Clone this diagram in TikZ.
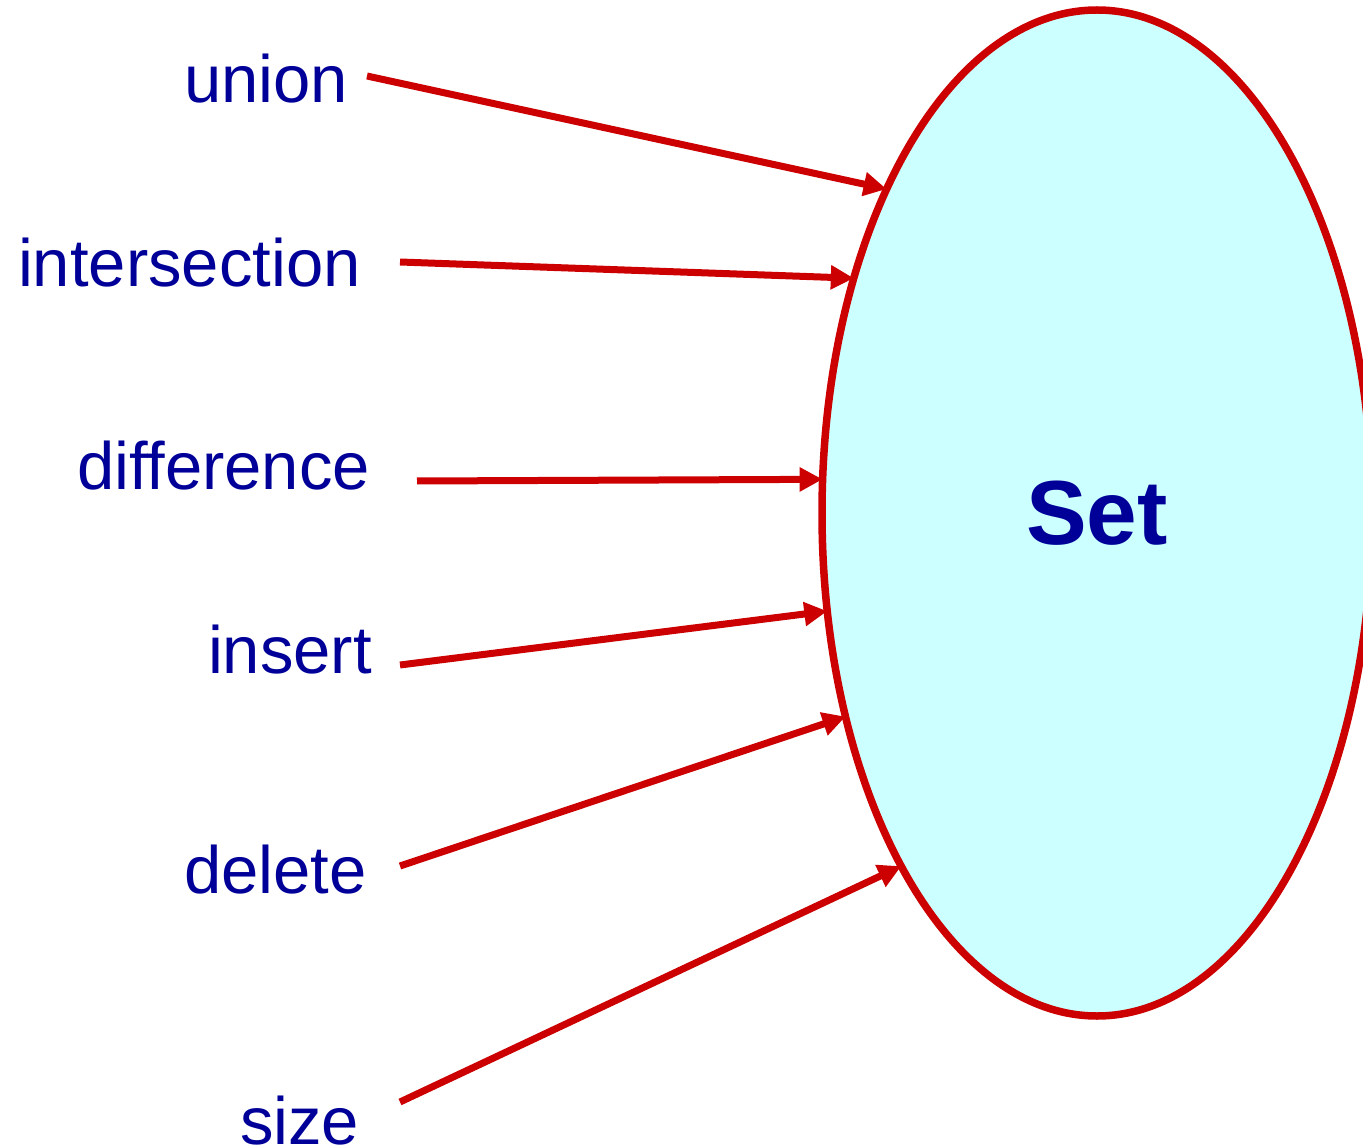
\documentclass[tikz,border=0pt]{standalone}
\usepackage{fontspec}
\setmainfont{Liberation Sans}
\usetikzlibrary{arrows.meta,shapes.geometric}
\definecolor{setred}{HTML}{CC0000}
\definecolor{setblue}{HTML}{000099}
\definecolor{setfill}{HTML}{CCFFFF}
\begin{document}
\begin{tikzpicture}[x=1pt,y=-1pt,
  oplabel/.style={anchor=base west,inner sep=0pt,outer sep=0pt,text=setblue,font=\fontsize{67}{67}\selectfont},
  setnode/.style={ellipse,draw=setred,fill=setfill,line width=7.5pt,minimum width=550pt,minimum height=1006pt,inner sep=0pt,outer sep=0pt,text=setblue,font=\fontsize{91}{91}\selectfont\bfseries},
  oparrow/.style={draw=setred,line width=7pt,-{Triangle[length=23pt,width=23pt]}}]
\useasboundingbox (0,0) rectangle (1363,1147);
\node[setnode] (set) at (1097,513) {Set};
\node[oplabel] (union) at (184,103) {union};
\node[oplabel] (inter) at (18,287) {intersection};
\node[oplabel] (diff) at (77,489) {difference};
\node[oplabel] (ins) at (208,673) {insert};
\node[oplabel] (del) at (184,893) {delete};
\node[oplabel] (size) at (240,1144) {size};
\coordinate (uS) at (367,76);
\coordinate (iS) at (400,262);
\coordinate (dS) at (417,481);
\coordinate (nS) at (400,665);
\coordinate (eS) at (400,866);
\coordinate (sS) at (400,1102);
\draw[oparrow] (uS) -- (set.123.8);
\draw[oparrow] (iS) -- (set.136.2);
\draw[oparrow] (dS) -- (set.173.2);
\draw[oparrow] (nS) -- (set.200.0);
\draw[oparrow] (eS) -- (set.219.8);
\draw[oparrow] (sS) -- (set.241.2);
\end{tikzpicture}
\end{document}
